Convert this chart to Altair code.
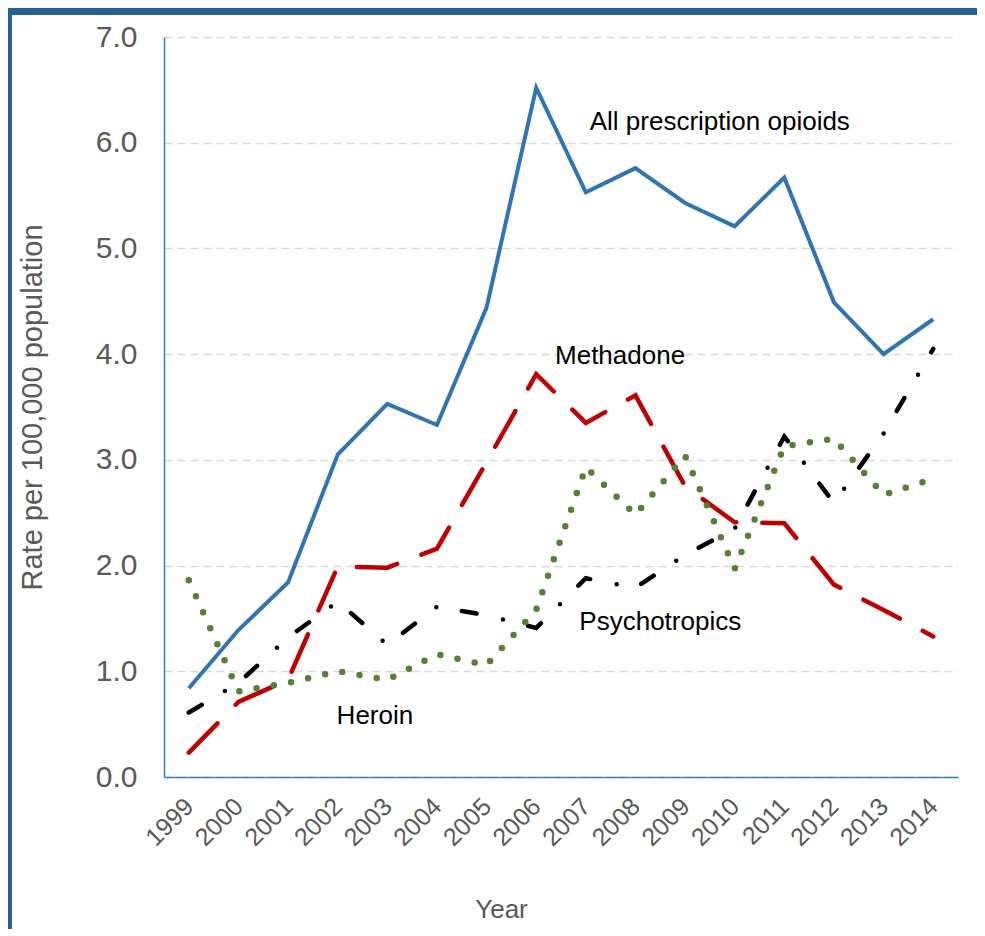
import altair as alt
import pandas as pd

years = list(range(1999, 2015))
opioids = [0.84, 1.39, 1.84, 3.05, 3.53, 3.33, 4.44, 6.52, 5.53, 5.76, 5.43, 5.21, 5.67, 4.49, 4.00, 4.33]
methadone = [0.23, 0.71, 0.92, 1.99, 1.98, 2.16, 2.98, 3.81, 3.35, 3.61, 2.75, 2.41, 2.40, 1.82, 1.58, 1.33]
psychotropics = [0.61, 0.89, 1.32, 1.66, 1.25, 1.61, 1.53, 1.41, 1.88, 1.79, 2.10, 2.35, 3.22, 2.59, 3.25, 4.05]
heroin = [1.86, 0.81, 0.89, 1.00, 0.92, 1.16, 1.06, 1.58, 2.93, 2.48, 3.04, 1.97, 3.13, 3.20, 2.67, 2.82]

label_text = ["All prescription opioids", "Methadone", "Psychotropics", "Heroin"]
label_year = [2009.70, 2007.69, 2008.50, 2002.75]
label_value = [6.12, 3.91, 1.39, 0.50]

y_ticks = [0, 1, 2, 3, 4, 5, 6, 7]

FONT = "Liberation Sans"
GREY = "#595959"
AXIS_BLUE = "#2E80C8"

df = pd.DataFrame({
    "Year": years,
    "opioids": opioids,
    "methadone": methadone,
    "psychotropics": psychotropics,
    "heroin": heroin,
})

x_enc = alt.X(
    "Year:Q",
    scale=alt.Scale(domain=[1998.5, 2014.5], nice=False, zero=False),
    axis=alt.Axis(
        values=years, format="d", labelAngle=-45, labelAlign="right", labelBaseline="middle",
        labelPadding=25, labelFontSize=25, labelColor=GREY, labelFont=FONT,
        labelOverlap=False, labelFlush=False, ticks=False, grid=False,
        domainColor=AXIS_BLUE, domainWidth=1.5,
        title="Year", titleFontSize=26, titleFont=FONT, titleColor=GREY, titleFontWeight="normal",
        titleX=337, titleY=140, titleAlign="center", titleBaseline="alphabetic",
    ),
)


def y_enc(field):
    return alt.Y(
        f"{field}:Q",
        scale=alt.Scale(domain=[0, 7], nice=False),
        axis=alt.Axis(
            values=y_ticks, format=".1f", labelFontSize=30, labelColor=GREY, labelFont=FONT,
            labelPadding=27, ticks=False, grid=True, gridColor="#D9D9D9", gridWidth=1.5,
            gridDash=[8, 5], domainColor=AXIS_BLUE, domainWidth=1.5,
            title="Rate per 100,000 population", titleFontSize=29, titleFont=FONT,
            titleColor=GREY, titleFontWeight="normal", titleX=-132, titleY=370,
            titleAlign="center", titleBaseline="middle", titleAngle=-90,
        ),
    )


base = alt.Chart(df)

line_opioids = base.mark_line(color="#2E75B6", strokeWidth=4).encode(x=x_enc, y=y_enc("opioids"))
line_methadone = base.mark_line(
    color="#C00000", strokeWidth=4.5, strokeDash=[41, 26], strokeCap="round"
).encode(x=x_enc, y=y_enc("methadone"))
line_psy = base.mark_line(
    color="#000000", strokeWidth=4.5, strokeDash=[15, 27, 0, 26], strokeCap="round"
).encode(x=x_enc, y=y_enc("psychotropics"))
line_heroin = base.mark_line(
    color="#548235", strokeWidth=6.5, strokeDash=[0, 17.5], strokeCap="round"
).encode(x=x_enc, y=y_enc("heroin"))

labels_df = pd.DataFrame({"Year": label_year, "value": label_value, "text": label_text})
labels = alt.Chart(labels_df).mark_text(
    font=FONT, fontSize=26, color="#000000", align="center", baseline="alphabetic"
).encode(x=alt.X("Year:Q"), y=alt.Y("value:Q"), text="text:N")

frame_df = pd.DataFrame({"k": [0]})
frame_top = alt.Chart(frame_df).mark_rect(color="#266096").encode(
    x=alt.value(-156), x2=alt.value(813), y=alt.value(-29), y2=alt.value(-22)
)
frame_left = alt.Chart(frame_df).mark_rect(color="#266096").encode(
    x=alt.value(-156), x2=alt.value(-152), y=alt.value(-29), y2=alt.value(892)
)

chart = alt.layer(
    line_opioids, line_methadone, line_psy, line_heroin, labels, frame_top, frame_left
).properties(
    width=794, height=740,
    autosize=alt.AutoSizeParams(type="none"),
    padding={"left": 156, "top": 29, "right": 19, "bottom": 152},
).configure_view(strokeWidth=0)

chart.save("out.html", embed_options={"renderer": "svg", "actions": False})
